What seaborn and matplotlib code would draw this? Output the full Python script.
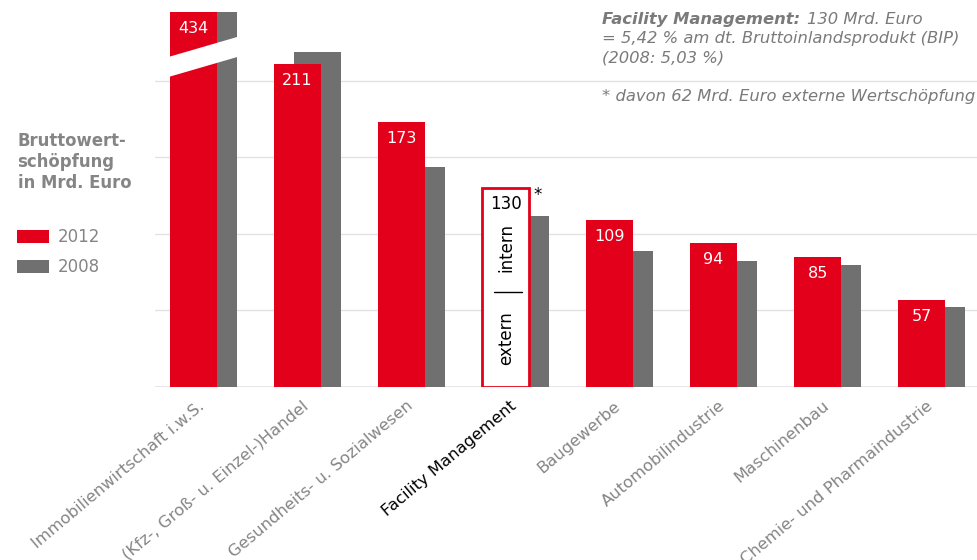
import matplotlib
matplotlib.use('Agg')
import matplotlib.pyplot as plt
import seaborn as sns
import numpy as np
from matplotlib.patches import Polygon, Rectangle

# Daten
branchen = ['Immobilienwirtschaft i.w.S.', '(Kfz-, Groß- u. Einzel-)Handel',
            'Gesundheits- u. Sozialwesen', 'Facility Management', 'Baugewerbe',
            'Automobilindustrie', 'Maschinenbau', 'Chemie- und Pharmaindustrie']
werte_2012 = [434, 211, 173, 130, 109, 94, 85, 57]
werte_2008 = [405, 219, 144, 112, 89, 82, 80, 52]
fm_extern = 62
jahre = ['2012', '2008']

ROT = '#E2001A'
GRAU = '#707070'
TEXTGRAU = '#858585'

sns.set_theme(style='white')
plt.rcParams['font.family'] = ['DejaVu Sans']

fig = plt.figure(figsize=(9.78, 5.6), dpi=100)
ax = fig.add_axes([0.1585, 0.309, 0.8415, 0.6696])

idx = np.arange(len(branchen))
pos_rot = idx - 0.091
pos_grau = idx + 0.101
fm = branchen.index('Facility Management')

# grau (2008) hinter rot (2012)
sns.barplot(x=pos_grau, y=werte_2008, native_scale=True, width=0.45,
            color=GRAU, saturation=1, linewidth=0, ax=ax, zorder=2)
n_grau = len(ax.patches)
sns.barplot(x=pos_rot, y=werte_2012, native_scale=True, width=0.45,
            color=ROT, saturation=1, linewidth=0, ax=ax, zorder=3)
rot_bars = ax.patches[n_grau:]

# FM-Balken: weiß mit rotem Rand
fm_bar = rot_bars[fm]
fm_bar.set_facecolor('white')
fm_bar.set_edgecolor(ROT)
fm_bar.set_linewidth(2)

ax.set_xlim(-0.46, 7.45)
ax.set_ylim(0, 245)
ax.set_yticks([0, 50, 100, 150, 200])
ax.set_yticklabels([])
ax.tick_params(axis='y', length=0)
ax.grid(axis='y', color='#e3e3e3', linewidth=1, zorder=0)
ax.set_axisbelow(True)
for s in ax.spines.values():
    s.set_visible(False)
ax.axhline(0, color='#e3e3e3', lw=2, zorder=1)
ax.set_xlabel('')
ax.set_ylabel('')

# Achsenbruch beim ersten Balken
x0 = pos_rot[0] - 0.225
x1 = pos_grau[0] + 0.225
ax.add_patch(Polygon([[x0 - 0.01, 202.6], [x1 + 0.01, 215.7],
                      [x1 + 0.01, 228.8], [x0 - 0.01, 215.7]],
                     closed=True, facecolor='white', edgecolor='none', zorder=4))

# Werte in den Balken
for i, (p, v) in enumerate(zip(pos_rot, werte_2012)):
    y = min(v, 245)
    if i == fm:
        ax.annotate(str(v), (p, y), xytext=(0, -11.5), textcoords='offset points',
                    ha='center', va='center', color='black', fontsize=12, zorder=5)
    else:
        ax.annotate(str(v), (p, y), xytext=(0, -12), textcoords='offset points',
                    ha='center', va='center', color='white', fontsize=11.5, zorder=5)

# intern / extern im FM-Balken
pfm = pos_rot[fm]
ax.plot([pfm - 0.11, pfm + 0.16], [fm_extern, fm_extern], color='black', lw=1, zorder=5)
ax.text(pfm + 0.01, 91, 'intern', rotation=90,
        ha='center', va='center', fontsize=12, color='black', zorder=5)
ax.text(pfm + 0.01, fm_extern / 2 + 1, 'extern', rotation=90,
        ha='center', va='center', fontsize=12, color='black', zorder=5)
ax.annotate('*', (pfm + 0.225, werte_2012[fm]), xytext=(3, -5), textcoords='offset points',
            ha='left', va='center', fontsize=12, color='black')

# x-Beschriftung
ax.set_xticks(idx - 0.05)
ax.set_xticklabels(branchen, rotation=40, ha='right', va='top',
                   rotation_mode='anchor', fontsize=11.8, color=TEXTGRAU)
ax.get_xticklabels()[fm].set_color('black')
ax.tick_params(axis='x', length=0, pad=8)

# Texte oben rechts
fs_info = 11.8
fig.text(0.6155, 0.966, 'Facility Management:', fontsize=fs_info, style='italic',
         weight='bold', color='#7a7a7a', va='center')
fig.text(0.8255, 0.966, '130 Mrd. Euro', fontsize=fs_info, style='italic',
         color='#7a7a7a', va='center')
fig.text(0.6155, 0.931, '= 5,42 % am dt. Bruttoinlandsprodukt (BIP)', fontsize=fs_info,
         style='italic', color='#7a7a7a', va='center')
fig.text(0.6155, 0.896, '(2008: 5,03 %)', fontsize=fs_info, style='italic',
         color='#7a7a7a', va='center')
fig.text(0.6155, 0.827, '* davon 62 Mrd. Euro externe Wertschöpfung', fontsize=fs_info,
         style='italic', color='#7a7a7a', va='center')

# Legende links
fig.text(0.018, 0.711, 'Bruttowert-\nschöpfung\nin Mrd. Euro', fontsize=11.9,
         weight='bold', color=TEXTGRAU, va='center', linespacing=1.2)
W, H = 978, 560
for k, (jahr, farbe) in enumerate(zip(jahre, [ROT, GRAU])):
    y_top = 230 + 30 * k
    fig.add_artist(Rectangle((17 / W, 1 - (y_top + 13) / H), 32 / W, 13 / H,
                             transform=fig.transFigure, facecolor=farbe, edgecolor='none'))
    fig.text(58 / W, 1 - (y_top + 7) / H, jahr, fontsize=12, color=TEXTGRAU, va='center')

fig.savefig('out.png', dpi=100)
